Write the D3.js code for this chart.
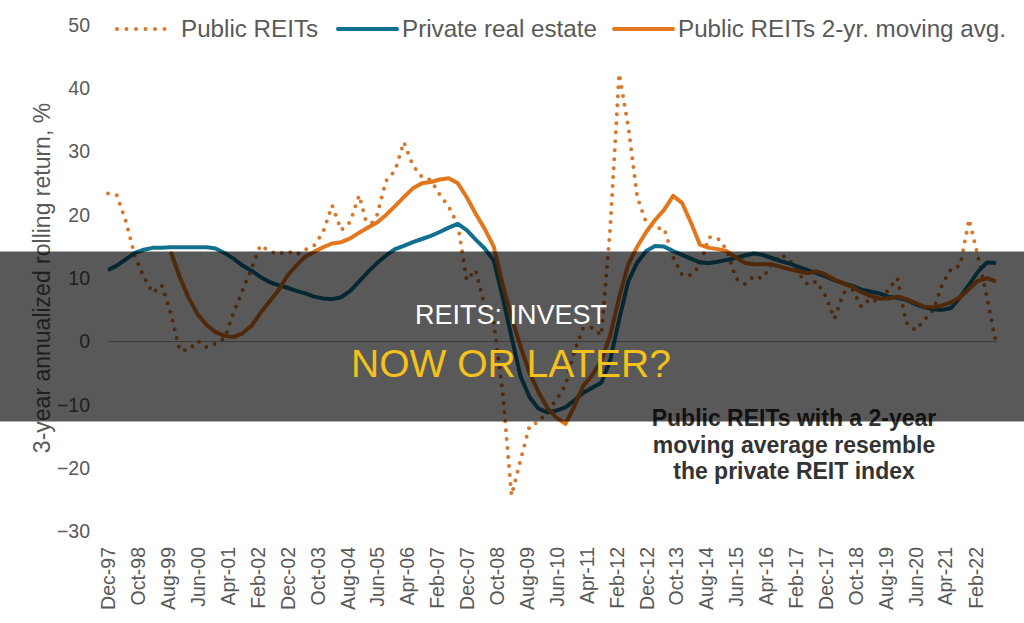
<!DOCTYPE html>
<html><head><meta charset="utf-8">
<script src="https://cdn.jsdelivr.net/npm/d3@7"></script>
<style>body{margin:0;background:#fff;}svg{display:block;font-family:"Liberation Sans",Arial,sans-serif;}</style>
</head><body>
<svg id="c" width="1024" height="623"></svg>
<script>
// Quarterly observations, Dec-97 .. Sep-22
const startMonth = "Dec-97";
const endMonth = "Sep-22";
const publicREITs = [23.4,23.1,19.0,13.5,10.2,7.7,8.9,4.5,-1.4,-1.3,0.1,-0.9,-0.3,0.5,4.5,8.1,11.5,15.2,14.3,13.8,
  14.3,13.7,14.5,15.2,17.3,21.5,17.6,18.9,23.1,17.8,20.0,25.4,27.0,31.5,27.8,26.0,25.5,23.2,21.3,18.5,
  9.7,11.3,5.5,3.0,-8.0,-24.3,-18.7,-13.3,-12.7,-11.0,-9.2,-6.9,-1.5,2.1,2.2,1.0,18.0,42.3,34.0,22.8,
  18.8,17.9,17.9,13.3,10.5,10.5,12.0,16.5,16.3,14.5,10.0,9.1,10.3,10.0,12.2,13.7,12.9,10.8,9.0,9.5,
  7.2,3.6,7.7,8.2,5.5,6.8,6.2,8.2,10.0,3.0,1.8,3.4,5.0,9.0,11.5,12.0,19.3,13.5,7.0,-0.2];
const privateRE = [11.3,12.0,13.0,14.0,14.5,14.8,14.8,14.9,14.9,14.9,14.9,14.9,14.7,14.0,13.1,12.0,11.2,10.2,9.4,8.9,
  8.5,8.0,7.6,7.1,6.8,6.7,7.0,8.0,9.5,11.0,12.4,13.6,14.6,15.1,15.7,16.2,16.7,17.3,18.0,18.6,
  17.6,16.1,14.7,12.8,7.0,0.7,-5.5,-8.8,-10.6,-11.2,-10.9,-10.4,-9.3,-8.1,-7.3,-6.5,-2.9,3.5,9.5,12.5,
  14.3,15.1,15.0,14.3,13.7,13.1,12.5,12.4,12.6,12.9,13.2,13.6,13.9,13.7,13.2,12.7,12.3,11.8,11.3,10.8,
  10.3,9.7,9.2,8.8,8.2,7.9,7.6,7.1,6.9,6.6,5.9,5.4,5.1,5.0,5.3,7.0,9.0,11.0,12.5,12.4];
const movingAvg = [null,null,null,null,null,null,null,14.2,10.2,6.9,4.3,2.6,1.5,0.9,0.7,1.3,2.5,4.5,6.3,8.1,
  10.4,12.0,13.4,14.2,14.9,15.5,15.7,16.3,17.2,18.0,18.8,20.0,21.4,22.8,24.2,25.0,25.2,25.6,25.8,25.0,
  22.8,20.2,17.8,15.0,9.0,3.8,-0.8,-5.0,-8.0,-10.5,-12.0,-13.0,-10.2,-7.0,-5.3,-3.0,1.0,7.0,12.2,15.0,
  17.3,19.2,20.8,23.0,21.9,18.8,15.3,14.8,14.6,14.3,13.3,12.4,12.2,12.2,12.2,11.8,11.4,11.1,10.8,11.1,
  10.6,9.8,9.2,8.6,7.8,7.2,6.8,6.8,7.1,6.7,6.1,5.5,5.4,5.7,6.2,7.0,8.3,9.6,10.0,9.5];
const xTickLabels = ["Dec-97","Oct-98","Aug-99","Jun-00","Apr-01","Feb-02","Dec-02","Oct-03","Aug-04","Jun-05",
  "Apr-06","Feb-07","Dec-07","Oct-08","Aug-09","Jun-10","Apr-11","Feb-12","Dec-12","Oct-13",
  "Aug-14","Jun-15","Apr-16","Feb-17","Dec-17","Oct-18","Aug-19","Jun-20","Apr-21","Feb-22"];
const yTicks = [-30,-20,-10,0,10,20,30,40,50];
const seriesNames = ["Public REITs","Private real estate","Public REITs 2-yr. moving avg."];
const yTitle = "3-year annualized rolling return, %";
const titleLines = ["REITS: INVEST","NOW OR LATER?"];
const noteLines = ["Public REITs with a 2-year","moving average resemble","the private REIT index"];

const parse = d3.timeParse("%b-%y"), fmt = d3.timeFormat("%b-%y");
const t0 = parse(startMonth), t1 = parse(endMonth);
const dates = d3.timeMonth.range(t0, d3.timeMonth.offset(t1,1), 3);

const svg = d3.select("#c");
const x = d3.scaleTime().domain([t0,t1]).range([108,996]);
const y = d3.scaleLinear().domain([-30,50]).range([531.5,25]);
const gray = "#595959";
const cOrange = "#e2771d", cDot = "#d9772a", cBlue = "#12708f";

// zero line
svg.append("line").attr("x1",108).attr("x2",997).attr("y1",y(0)).attr("y2",y(0))
  .attr("stroke","#a6a6a6").attr("stroke-width",1);

// y axis
const ya = svg.append("g").attr("transform","translate(98,0)")
  .call(d3.axisLeft(y).tickValues(yTicks).tickSize(0).tickPadding(8).tickFormat(d3.format("d")));
ya.select(".domain").remove();
ya.selectAll("text").attr("font-size",19.5).attr("fill",gray).attr("font-family","Liberation Sans, Arial, sans-serif");

// x axis
const xa = svg.append("g").attr("transform","translate(0,540)")
  .call(d3.axisBottom(x).tickValues(xTickLabels.map(parse)).tickSize(0).tickFormat(fmt));
xa.select(".domain").remove();
xa.selectAll("text").attr("font-size",19.5).attr("fill",gray).attr("font-family","Liberation Sans, Arial, sans-serif")
  .attr("text-anchor","end").attr("transform","rotate(-90)").attr("x",-7).attr("y",0).attr("dy","0.35em");

// y title
svg.append("text").attr("transform","translate(50,278) rotate(-90)").attr("text-anchor","middle")
  .attr("font-size",23).attr("fill",gray).text(yTitle);

const line = d3.line().defined(d=>d[1]!=null).x(d=>x(d[0])).y(d=>y(d[1]));
const zip = arr => dates.map((d,i)=>[d,arr[i]]);

svg.append("path").attr("d",line(zip(publicREITs))).attr("fill","none").attr("stroke",cDot)
  .attr("stroke-width",4).attr("stroke-linecap","round").attr("stroke-dasharray","0 9");
svg.append("path").attr("d",line(zip(privateRE))).attr("fill","none").attr("stroke",cBlue)
  .attr("stroke-width",4).attr("stroke-linejoin","round");
svg.append("path").attr("d",line(zip(movingAvg))).attr("fill","none").attr("stroke",cOrange)
  .attr("stroke-width",4).attr("stroke-linejoin","round");

// legend
const leg = [
  {x1:117,x2:170,tx:181,c:cDot,dash:"0 9.5"},
  {x1:338,x2:397,tx:402,c:cBlue,dash:null},
  {x1:614,x2:673,tx:678,c:cOrange,dash:null}];
leg.forEach((l,i)=>{
  svg.append("line").attr("x1",l.x1).attr("x2",l.x2).attr("y1",29).attr("y2",29)
    .attr("stroke",l.c).attr("stroke-width",4).attr("stroke-linecap","round")
    .attr("stroke-dasharray",l.dash);
  svg.append("text").attr("x",l.tx).attr("y",37).attr("font-size",24.2).attr("fill",gray).text(seriesNames[i]);
});

// annotation
noteLines.forEach((t,i)=>{
  svg.append("text").attr("x",794).attr("y",426+i*26.5).attr("text-anchor","middle")
    .attr("font-size",23).attr("font-weight","bold").attr("fill","#333333").text(t);
});

// overlay band
svg.append("rect").attr("x",0).attr("y",251.5).attr("width",1024).attr("height",170)
  .attr("fill","#000").attr("fill-opacity",0.65);
svg.append("text").attr("x",511).attr("y",324).attr("text-anchor","middle").attr("font-size",27)
  .attr("fill","#ffffff").text(titleLines[0]);
svg.append("text").attr("x",511).attr("y",377).attr("text-anchor","middle").attr("font-size",39)
  .attr("fill","#f4c21b").text(titleLines[1]);
</script>
</body></html>
